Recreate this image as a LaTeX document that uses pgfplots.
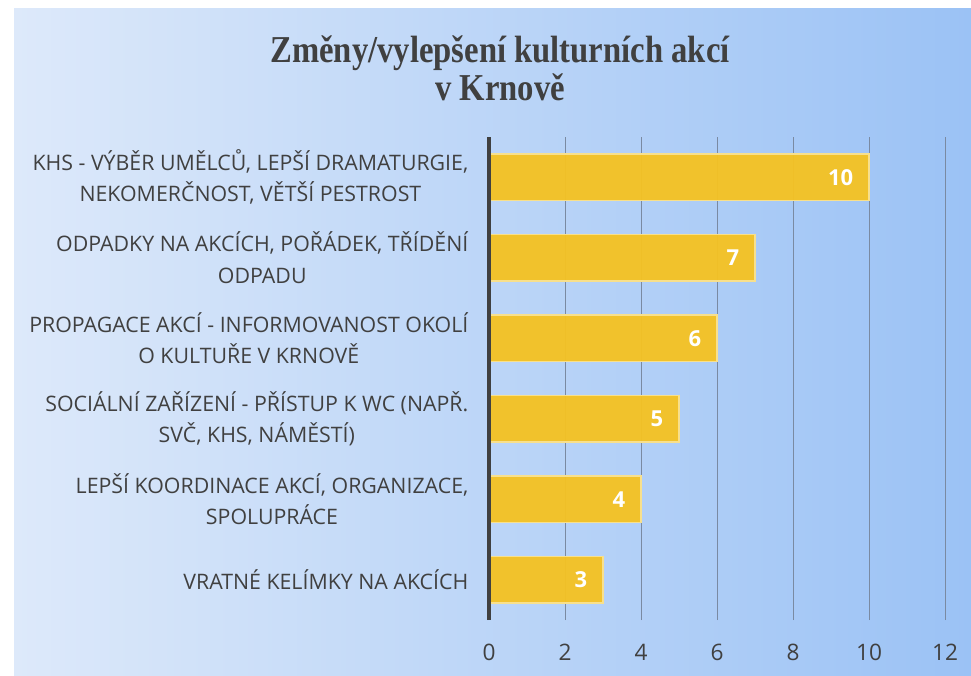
\documentclass[border=0pt]{standalone}
\usepackage{pgfplots}
\pgfplotsset{compat=1.18}
\usepackage{fontspec}
\setmainfont{Open Sans}
\newfontfamily\titlefont[FakeStretch=0.86]{Liberation Serif}
\definecolor{bgL}{RGB}{221,233,250}
\definecolor{bgR}{RGB}{155,194,245}
\definecolor{txt}{RGB}{64,64,64}
\definecolor{barc}{RGB}{244,194,36}
\definecolor{barb}{RGB}{248,224,140}
\definecolor{gridc}{RGB}{122,138,162}
\begin{document}
\begin{tikzpicture}
\useasboundingbox (0,0) rectangle (728.25pt,506.25pt);
\shade[left color=bgL, right color=bgR] (10.5pt,0) rectangle (728.25pt,499.5pt);
\node[align=center, text=txt, font=\titlefont\bfseries\fontsize{28.5}{28.5}\selectfont] at (375pt,455pt) {Změny/vylepšení kulturních akcí\\v Krnově};
\begin{axis}[
  at={(366.75pt,41.25pt)}, anchor=south west,
  width=342pt, height=362.25pt, scale only axis,
  xmin=0, xmax=12, ymin=-0.5, ymax=5.5,
  xtick={0,2,...,12}, ytick={0,...,5},
  yticklabels={{VRATNÉ KELÍMKY NA AKCÍCH},
    {LEPŠÍ KOORDINACE AKCÍ, ORGANIZACE,\\SPOLUPRÁCE},
    {SOCIÁLNÍ ZAŘÍZENÍ - PŘÍSTUP K WC (NAPŘ.\\SVČ, KHS, NÁMĚSTÍ)},
    {PROPAGACE AKCÍ - INFORMOVANOST OKOLÍ\\O KULTUŘE V KRNOVĚ},
    {ODPADKY NA AKCÍCH, POŘÁDEK, TŘÍDĚNÍ\\ODPADU},
    {KHS - VÝBĚR UMĚLCŮ, LEPŠÍ DRAMATURGIE,\\NEKOMERČNOST, VĚTŠÍ PESTROST}},
  xmajorgrids, grid style={gridc, line width=0.75pt},
  axis line style={draw=none}, major tick length=0pt,
  /pgf/number format/assume math mode=true,
  yticklabel style={align=center, anchor=east, xshift=-12pt, text=txt, font=\fontsize{16}{23.5}\selectfont},
  xticklabel style={anchor=base, yshift=-30pt, text=txt, font=\fontsize{17}{20}\selectfont},
  xbar, bar width=35pt,
  nodes near coords,
  every node near coord/.append style={anchor=east, xshift=-8pt, text=white, font=\bfseries\fontsize{16.5}{19}\selectfont},
]
\addplot[fill=barc, fill opacity=0.96, draw=barb, line width=1pt, text opacity=1] coordinates {(3,0) (4,1) (5,2) (6,3) (7,4) (10,5)};
\coordinate (YA) at (axis cs:0,-0.5);
\coordinate (YB) at (axis cs:0,5.5);
\end{axis}
\draw[txt, line width=3pt] (YA) -- (YB);
\end{tikzpicture}
\end{document}
